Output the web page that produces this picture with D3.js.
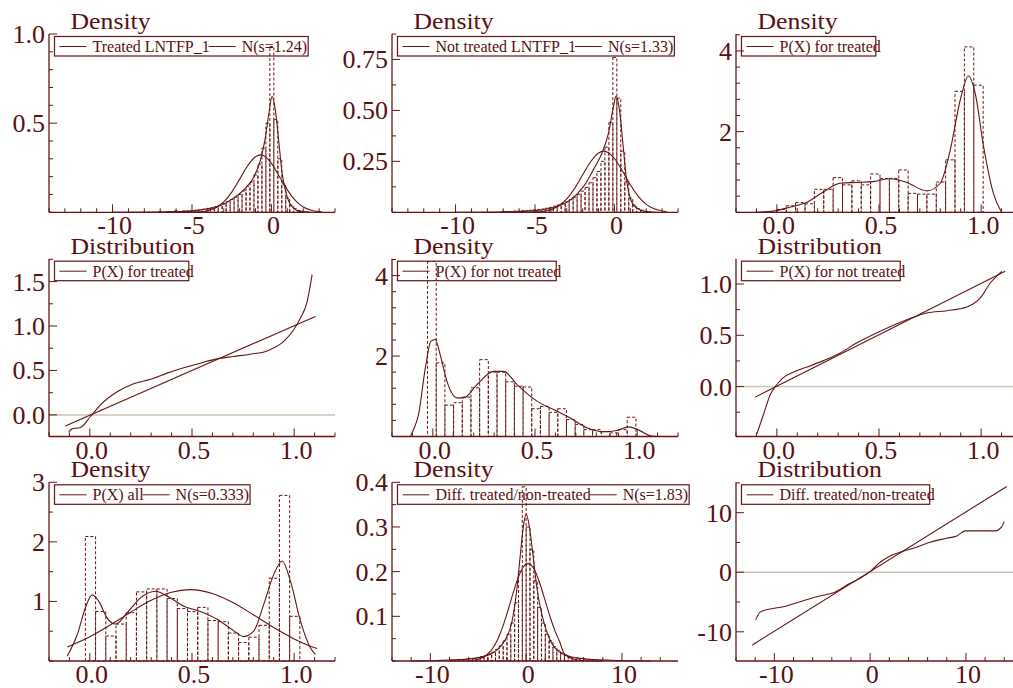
<!DOCTYPE html>
<html>
<head>
<meta charset="utf-8">
<script src="https://cdn.jsdelivr.net/npm/d3@7"></script>
<style>
  body { margin: 0; background: #fff; }
  svg text { font-family: "Liberation Serif", "Times New Roman", serif; fill: #5a0f0f; }
</style>
</head>
<body>
<div id="chart"></div>
<script>
// ---- data ----
// treated LNTFP_1
const treatedHistStart = -7.1, treatedHistStep = 0.25;
const treatedHist = [0.004,0,0.004,0.004,0.008,0.004,0.008,0.008,0.01,0.012,0.014,0.018,0.022,0.026,0.032,0.04,0.05,0.06,0.072,0.085,
  0.1,0.12,0.145,0.17,0.21,0.27,0.36,0.5,0.93,0.52,0.3,0.16,0.08,0.04,0.02,0.01,0.006,0.002];
const treatedKde = [[-10,0],[-7,0.002],[-6.1,0.003],[-4.5,0.013],[-3.4,0.031],[-2.4,0.078],[-1.65,0.134],[-1.1,0.2],[-0.7,0.29],
  [-0.38,0.42],[-0.17,0.55],[0.04,0.65],[0.25,0.57],[0.46,0.4],[0.67,0.22],[0.99,0.087],[1.4,0.022],[1.82,0.004],[2.5,0]];
const treatedNormal = [[-6.5,0],[-5.5,0.001],[-4.5,0.003],[-4,0.009],[-3.5,0.025],[-3,0.058],[-2.5,0.113],[-2,0.186],[-1.5,0.261],
  [-1,0.312],[-0.7,0.322],[-0.5,0.318],[0,0.274],[0.5,0.201],[1,0.126],[1.5,0.067],[2,0.03],[2.5,0.012],[3,0.004],[3.2,0.002]];

// not treated LNTFP_1
const notTreatedHistStart = -7.1, notTreatedHistStep = 0.25;
const notTreatedHist = [0.004,0.004,0.004,0.006,0.006,0.008,0.008,0.01,0.012,0.014,0.016,0.02,0.024,0.03,0.036,0.044,0.052,0.062,0.074,0.088,
  0.104,0.122,0.145,0.17,0.2,0.25,0.32,0.44,0.76,0.56,0.3,0.15,0.07,0.035,0.018,0.01,0.005,0.002];
const notTreatedKde = [[-10,0],[-6.1,0.003],[-4.04,0.02],[-2.79,0.06],[-1.95,0.126],[-1.32,0.21],[-0.79,0.29],[-0.37,0.39],[-0.06,0.52],
  [0.1,0.57],[0.32,0.5],[0.53,0.34],[0.74,0.175],[0.99,0.07],[1.41,0.02],[2.04,0.003],[2.8,0]];
const notTreatedNormal = [[-6,0],[-5,0.0015],[-4.5,0.005],[-4,0.013],[-3.5,0.032],[-3,0.066],[-2.5,0.118],[-2,0.184],[-1.5,0.248],
  [-1,0.291],[-0.68,0.3],[-0.5,0.297],[0,0.264],[0.5,0.203],[1,0.135],[1.5,0.078],[2,0.039],[2.5,0.017],[3,0.0065],[3.3,0.003]];

// P(X) for treated
const pTreatedHistStart = 0, pTreatedHistStep = 0.0459;
const pTreatedHist = [0.07,0.16,0.24,0.21,0.57,0.57,0.86,0.68,0.78,0.68,0.95,0.84,0.84,1.05,0.47,0.45,0.45,0.75,1.3,3.0,4.1,3.15];
const pTreatedKde = [[-0.106,0],[-0.016,0.03],[0.066,0.13],[0.147,0.25],[0.229,0.51],[0.31,0.72],[0.39,0.74],[0.47,0.76],[0.555,0.83],
  [0.636,0.74],[0.734,0.53],[0.8,0.72],[0.849,1.55],[0.898,2.79],[0.938,3.38],[0.971,2.95],[1.012,1.63],[1.06,0.47],[1.1,0]];
const pTreatedQQ = [[-0.103,-0.195],[-0.09,-0.16],[-0.046,-0.142],[0.003,-0.018],[0.052,0.113],[0.134,0.26],[0.215,0.35],[0.297,0.4],
  [0.378,0.47],[0.46,0.53],[0.541,0.582],[0.623,0.63],[0.704,0.657],[0.786,0.683],[0.868,0.72],[0.949,0.826],[0.998,0.957],
  [1.031,1.089],[1.064,1.277],[1.088,1.577]];
const pTreatedRef = [[-0.12,-0.124],[1.104,1.108]];

// P(X) for not treated
const pNotTreatedHistStart = -0.026, pNotTreatedHistStep = 0.0425;
const pNotTreatedHist = [4.35,1.83,0.78,0.84,0.98,1.21,1.91,1.6,1.6,1.36,1.25,1.23,0.69,0.75,0.6,0.69,0.42,0.3,0.17,0.17,0.12,0.09,0.17,0.48];
const pNotTreatedKde = [[-0.11,0],[-0.102,0.09],[-0.07,0.55],[-0.037,1.7],[-0.009,2.37],[0.012,2.41],[0.036,2.03],[0.069,1.37],[0.118,0.96],
  [0.151,0.96],[0.216,1.29],[0.298,1.62],[0.347,1.62],[0.412,1.29],[0.51,0.88],[0.591,0.67],[0.672,0.46],[0.754,0.22],[0.836,0.12],
  [0.9,0.15],[0.958,0.24],[1.015,0.14],[1.064,0.02],[1.105,0]];
const pNotTreatedQQ = [[-0.098,-0.46],[-0.065,-0.27],[-0.032,-0.078],[0,0.02],[0.033,0.09],[0.082,0.143],[0.147,0.19],[0.228,0.253],
  [0.31,0.328],[0.39,0.425],[0.506,0.54],[0.636,0.652],[0.734,0.718],[0.832,0.74],[0.93,0.776],[0.996,0.864],[1.045,1.01],[1.101,1.124]];
const pNotTreatedRef = [[-0.106,-0.103],[1.118,1.124]];

// P(X) all
const pAllHistStart = -0.022, pAllHistStep = 0.05;
const pAllHist = [2.09,0.83,0.42,0.62,0.81,1.16,1.21,1.21,1.05,0.88,0.83,0.9,0.68,0.66,0.47,0.31,0.4,0.6,1.39,2.78,0.75];
const pAllKde = [[-0.111,0.08],[-0.062,0.44],[-0.022,0.89],[0.011,1.11],[0.044,1.0],[0.085,0.72],[0.125,0.62],[0.183,0.81],[0.248,1.06],
  [0.321,1.17],[0.378,1.09],[0.46,0.92],[0.541,0.83],[0.623,0.7],[0.704,0.51],[0.753,0.41],[0.802,0.5],[0.851,0.95],[0.9,1.45],
  [0.941,1.68],[0.982,1.34],[1.031,0.67],[1.08,0.22],[1.104,0.11]];
const pAllNormal = [[-0.11,0.235],[0,0.406],[0.1,0.603],[0.2,0.82],[0.3,1.018],[0.4,1.155],[0.49,1.198],[0.6,1.134],[0.7,0.982],
  [0.8,0.777],[0.9,0.561],[1.0,0.371],[1.1,0.224],[1.113,0.21]];

// difference treated / non-treated
const diffHistStart = -8, diffHistStep = 0.4;
const diffHist = [0.002,0.002,0.003,0.003,0.004,0.005,0.006,0.008,0.01,0.012,0.016,0.02,0.026,0.034,0.045,0.06,0.085,0.13,0.2,0.39,
  0.3,0.25,0.18,0.12,0.085,0.06,0.045,0.032,0.024,0.018,0.013,0.01,0.008,0.007,0.006,0.004,0.003,0.002,0.002,0.001];
const diffKde = [[-12,0],[-9.3,0.001],[-5.82,0.005],[-4.43,0.01],[-3.04,0.025],[-2.17,0.048],[-1.47,0.089],[-0.95,0.164],[-0.6,0.239],
  [-0.25,0.307],[0,0.329],[0.35,0.299],[0.7,0.239],[1.12,0.164],[1.64,0.104],[2.34,0.055],[3.2,0.025],[4.6,0.01],[6,0.005],[9.8,0.001],[13,0]];
const diffNormal = [[-6,0.0007],[-5,0.0038],[-4,0.0157],[-3.5,0.028],[-3,0.047],[-2.5,0.073],[-2,0.106],[-1.5,0.142],[-1,0.176],
  [-0.5,0.203],[0,0.217],[0.2,0.218],[0.5,0.215],[1,0.198],[1.5,0.169],[2,0.134],[2.5,0.099],[3,0.068],[3.5,0.043],[4,0.0157],[5,0.0038],[6,0.0007]];
const diffQQ = [[-11.94,-8.0],[-11.48,-6.7],[-10.44,-6.17],[-9.05,-5.78],[-7.31,-4.94],[-5.57,-4.1],[-3.83,-3.43],[-2.09,-1.85],
  [-1.04,-1.0],[0,0.1],[1.04,1.68],[2.09,2.74],[3.13,3.36],[4.52,4.03],[6.26,5.04],[8.0,5.71],[9.04,6.1],[9.92,6.94],[11.48,6.94],
  [13.05,6.94],[13.74,7.66],[13.99,8.5]];
const diffRef = [[-12.29,-12.2],[14.26,14.4]];

// ---- layout ----
const ink = "#641515";
const cols = [{left: 49, right: 335}, {left: 392, right: 678}, {left: 736, right: 1022}];
const rows = [{top: 34, bottom: 212.3}, {top: 258.7, bottom: 436.5}, {top: 482.3, bottom: 661}];

const fmt = f => v => d3.format(f)(v).replace("\u2212", "-");
const xLog = {domain: [-14, 4], minor: 1, major: [-10, -5, 0], fmt: fmt("d")};
const xProb = {domain: [-0.2, 1.2], minor: 0.1, major: [0, 0.5, 1], fmt: fmt(".1f")};
const xDiff = {domain: [-14, 15.85], minor: 2, major: [-10, 0, 10], fmt: fmt("d")};

const hist = (start, step, h) => ({start, step, h});

const panels = [
  {col: 0, row: 0, title: "Density", xa: xLog, yDomain: [0, 1.0], yMinor: 0.1, yMajor: [0.5, 1.0], yFmt: fmt(".1f"),
   hist: hist(treatedHistStart, treatedHistStep, treatedHist), curves: [treatedKde, treatedNormal],
   legend: ["Treated LNTFP_1", "N(s=1.24)"]},
  {col: 1, row: 0, title: "Density", xa: xLog, yDomain: [0, 0.875], yMinor: 0.125, yMajor: [0.25, 0.5, 0.75], yFmt: fmt(".2f"),
   hist: hist(notTreatedHistStart, notTreatedHistStep, notTreatedHist), curves: [notTreatedKde, notTreatedNormal],
   legend: ["Not treated LNTFP_1", "N(s=1.33)"]},
  {col: 2, row: 0, title: "Density", xa: xProb, yDomain: [0, 4.42], yMinor: 0.4, yMajor: [2, 4], yFmt: fmt("d"),
   hist: hist(pTreatedHistStart, pTreatedHistStep, pTreatedHist), curves: [pTreatedKde],
   legend: ["P(X) for treated"]},
  {col: 0, row: 1, title: "Distribution", xa: xProb, yDomain: [-0.243, 1.757], yMinor: 0.25, yMajor: [0, 0.5, 1, 1.5], yFmt: fmt(".1f"),
   zero: true, curves: [pTreatedQQ], refs: [pTreatedRef], legend: ["P(X) for treated"]},
  {col: 1, row: 1, title: "Density", xa: xProb, yDomain: [0, 4.42], yMinor: 0.4, yMajor: [2, 4], yFmt: fmt("d"),
   hist: hist(pNotTreatedHistStart, pNotTreatedHistStep, pNotTreatedHist), curves: [pNotTreatedKde],
   legend: ["P(X) for not treated"]},
  {col: 2, row: 1, title: "Distribution", xa: xProb, yDomain: [-0.487, 1.247], yMinor: 0.25, yMajor: [0, 0.5, 1], yFmt: fmt(".1f"),
   zero: true, curves: [pNotTreatedQQ], refs: [pNotTreatedRef], legend: ["P(X) for not treated"]},
  {col: 0, row: 2, title: "Density", xa: xProb, yDomain: [0, 3], yMinor: 0.5, yMajor: [1, 2, 3], yFmt: fmt("d"),
   hist: hist(pAllHistStart, pAllHistStep, pAllHist), curves: [pAllKde, pAllNormal],
   legend: ["P(X) all", "N(s=0.333)"]},
  {col: 1, row: 2, title: "Density", xa: xDiff, yDomain: [0, 0.4], yMinor: 0.05, yMajor: [0.1, 0.2, 0.3, 0.4], yFmt: fmt(".1f"),
   hist: hist(diffHistStart, diffHistStep, diffHist), curves: [diffKde, diffNormal],
   legend: ["Diff. treated/non-treated", "N(s=1.83)"]},
  {col: 2, row: 2, title: "Distribution", xa: xDiff, yDomain: [-14.9, 15.1], yMinor: 5, yMajor: [-10, 0, 10], yFmt: fmt("d"),
   zero: true, curves: [diffQQ], refs: [diffRef], legend: ["Diff. treated/non-treated"]}
];

const svg = d3.select("#chart").append("svg")
  .attr("width", 1013).attr("height", 688);

function tickValues(d0, d1, step) {
  const a = Math.ceil(d0 / step - 1e-9), b = Math.floor(d1 / step + 1e-9);
  return d3.range(a, b + 1).map(i => +(i * step).toFixed(6));
}
const isMajor = (v, list) => list.some(m => Math.abs(m - v) < 1e-6);

panels.forEach(p => {
  const c = cols[p.col], r = rows[p.row];
  const x = d3.scaleLinear().domain(p.xa.domain).range([c.left, c.right]);
  const y = d3.scaleLinear().domain(p.yDomain).range([r.bottom, r.top]);
  const g = svg.append("g");

  if (p.zero) {
    g.append("line")
      .attr("x1", c.left).attr("x2", c.right)
      .attr("y1", y(0)).attr("y2", y(0))
      .attr("stroke", "#cbc5b5").attr("stroke-width", 1.5);
  }

  if (p.hist) {
    const bins = p.hist.h.map((h, i) => ({
      x0: p.hist.start + i * p.hist.step,
      x1: p.hist.start + (i + 1) * p.hist.step,
      h: h
    }));
    g.selectAll(".bar")
      .data(bins)
      .enter()
      .append("rect")
      .attr("class", "bar")
      .attr("x", d => x(d.x0))
      .attr("width", d => x(d.x1) - x(d.x0))
      .attr("y", d => y(d.h))
      .attr("height", d => y(0) - y(d.h))
      .attr("fill", "none")
      .attr("stroke", ink)
      .attr("stroke-width", 1)
      .attr("stroke-dasharray", "3,2");
  }

  const smooth = d3.line().x(d => x(d[0])).y(d => y(d[1])).curve(d3.curveMonotoneX);
  const straight = d3.line().x(d => x(d[0])).y(d => y(d[1]));
  (p.refs || []).forEach(l => {
    g.append("path").attr("d", straight(l)).attr("fill", "none").attr("stroke", ink).attr("stroke-width", 1.1);
  });
  p.curves.forEach(l => {
    g.append("path").attr("d", smooth(l)).attr("fill", "none").attr("stroke", ink).attr("stroke-width", 1.1);
  });

  // axes
  g.append("line").attr("x1", c.left).attr("x2", c.left).attr("y1", r.top).attr("y2", r.bottom)
    .attr("stroke", ink).attr("stroke-width", 1.3);
  g.append("line").attr("x1", c.left).attr("x2", c.right).attr("y1", r.bottom).attr("y2", r.bottom)
    .attr("stroke", ink).attr("stroke-width", 1.3);

  tickValues(p.yDomain[0], p.yDomain[1], p.yMinor).forEach(v => {
    const big = isMajor(v, p.yMajor);
    g.append("line").attr("x1", c.left).attr("x2", c.left + (big ? 8 : 4))
      .attr("y1", y(v)).attr("y2", y(v)).attr("stroke", ink).attr("stroke-width", 1);
  });
  p.yMajor.forEach(v => {
    g.append("text").attr("x", c.left - 4).attr("y", y(v) + 9)
      .attr("text-anchor", "end").style("font-size", "26px").text(p.yFmt(v));
  });

  tickValues(p.xa.domain[0], p.xa.domain[1], p.xa.minor).forEach(v => {
    const big = isMajor(v, p.xa.major);
    g.append("line").attr("x1", x(v)).attr("x2", x(v))
      .attr("y1", r.bottom).attr("y2", r.bottom - (big ? 8 : 4)).attr("stroke", ink).attr("stroke-width", 1);
  });
  p.xa.major.forEach(v => {
    g.append("text").attr("x", x(v) + 2).attr("y", r.bottom + 22)
      .attr("text-anchor", "middle").style("font-size", "26px").text(p.xa.fmt(v));
  });

  // title
  g.append("text")
    .attr("transform", `translate(${c.left + 21.5},${r.top - 5}) scale(1.12,1)`)
    .style("font-size", "23px")
    .text(p.title);

  // legend
  const bx = c.left + 5.5, by = r.top + 2.5;
  const lg = g.append("g");
  let cx = bx + 5;
  p.legend.forEach(label => {
    lg.append("line").attr("x1", cx).attr("x2", cx + 27).attr("y1", by + 10).attr("y2", by + 10)
      .attr("stroke", ink).attr("stroke-width", 1);
    const t = lg.append("text").attr("x", cx + 33).attr("y", by + 15.5)
      .style("font-size", "16px").text(label);
    cx = cx + 33 + t.node().getComputedTextLength() - 1;
  });
  lg.append("rect")
    .attr("x", bx).attr("y", by)
    .attr("width", cx - bx + (p.legend.length > 1 ? 2 : -4))
    .attr("height", 19.5)
    .attr("fill", "none").attr("stroke", ink).attr("stroke-width", 1.2);
});
</script>
</body>
</html>
